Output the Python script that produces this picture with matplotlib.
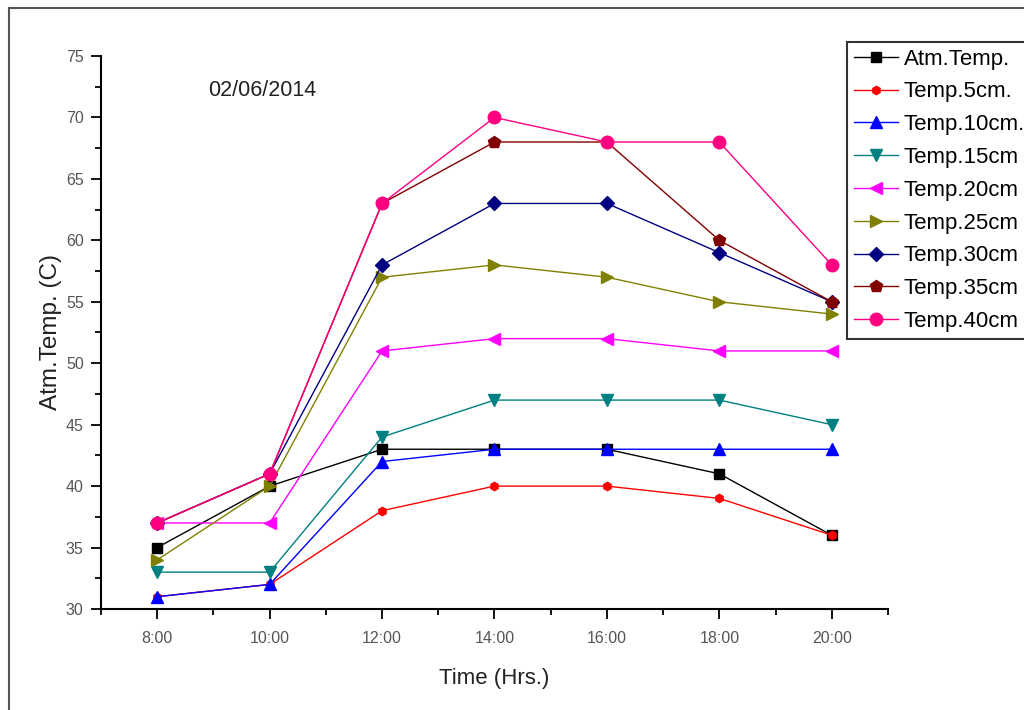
import matplotlib
matplotlib.use('Agg')
import matplotlib.pyplot as plt
from matplotlib.lines import Line2D
from matplotlib.ticker import MultipleLocator, FixedLocator

plt.rcParams['font.family'] = ['Liberation Sans', 'DejaVu Sans']

# Hours of the day
hours = [8, 10, 12, 14, 16, 18, 20]
hour_labels = ['8:00', '10:00', '12:00', '14:00', '16:00', '18:00', '20:00']

# Temperatures
atm_temp = [35, 40, 43, 43, 43, 41, 36]
temp_5cm = [31, 32, 38, 40, 40, 39, 36]
temp_10cm = [31, 32, 42, 43, 43, 43, 43]
temp_15cm = [33, 33, 44, 47, 47, 47, 45]
temp_20cm = [37, 37, 51, 52, 52, 51, 51]
temp_25cm = [34, 40, 57, 58, 57, 55, 54]
temp_30cm = [37, 41, 58, 63, 63, 59, 55]
temp_35cm = [37, 41, 63, 68, 68, 60, 55]
temp_40cm = [37, 41, 63, 70, 68, 68, 58]

series = [
    ('Atm.Temp.', atm_temp, 'black', 's', 7),
    ('Temp.5cm.', temp_5cm, 'red', 'h', 6),
    ('Temp.10cm.', temp_10cm, 'blue', '^', 9),
    ('Temp.15cm', temp_15cm, '#008080', 'v', 9),
    ('Temp.20cm', temp_20cm, '#FF00FF', '<', 9),
    ('Temp.25cm', temp_25cm, '#808000', '>', 9),
    ('Temp.30cm', temp_30cm, '#000080', 'D', 7),
    ('Temp.35cm', temp_35cm, '#800000', 'p', 9),
    ('Temp.40cm', temp_40cm, '#FF0080', 'o', 9),
]

fig = plt.figure(figsize=(10.24, 7.10), dpi=100)
ax = fig.add_axes([101 / 1024, 1 - 609 / 710, (888 - 101) / 1024, (609 - 56) / 710])

for name, vals, color, marker, size in series:
    ax.plot(hours, vals, color=color, marker=marker, markersize=size,
            linewidth=1, label=name)

ax.set_xlim(7, 21)
ax.set_ylim(30, 75)
ax.xaxis.set_major_locator(FixedLocator(hours))
ax.set_xticklabels(hour_labels)
ax.xaxis.set_minor_locator(MultipleLocator(1))
ax.yaxis.set_major_locator(MultipleLocator(5))
ax.yaxis.set_minor_locator(MultipleLocator(2.5))

for side in ['top', 'right']:
    ax.spines[side].set_visible(False)
for side in ['left', 'bottom']:
    ax.spines[side].set_linewidth(1.5)

ax.tick_params(which='major', length=7.5, width=1.3, labelsize=11.5,
               labelcolor='#555555')
ax.tick_params(axis='x', pad=8)
ax.tick_params(axis='y', pad=5)
ax.tick_params(which='minor', length=4, width=1.3)

ax.set_xlabel('Time (Hrs.)', fontsize=16, color='#222222', labelpad=16)
ax.set_ylabel('Atm.Temp. (C)', fontsize=17.5, color='#222222', labelpad=3)

fig.text(208 / 1024, 1 - 91 / 710, '02/06/2014', fontsize=15.5,
         color='#222222', va='center')

leg = fig.legend(loc='upper left', bbox_to_anchor=(847 / 1024, 1 - 42 / 710),
                 fontsize=16, frameon=True, fancybox=False, edgecolor='black',
                 borderpad=0.3, labelspacing=0.53, handlelength=2.0,
                 handletextpad=0.25, borderaxespad=0)
leg.get_frame().set_linewidth(1.5)

# Outer frame of the original image
fig.add_artist(Line2D([9 / 1024, 9 / 1024], [0, 1 - 8 / 710],
                      transform=fig.transFigure, color='#555555', linewidth=1.5))
fig.add_artist(Line2D([9 / 1024, 1], [1 - 8 / 710, 1 - 8 / 710],
                      transform=fig.transFigure, color='#555555', linewidth=1.5))

fig.savefig('out.png', dpi=100)
